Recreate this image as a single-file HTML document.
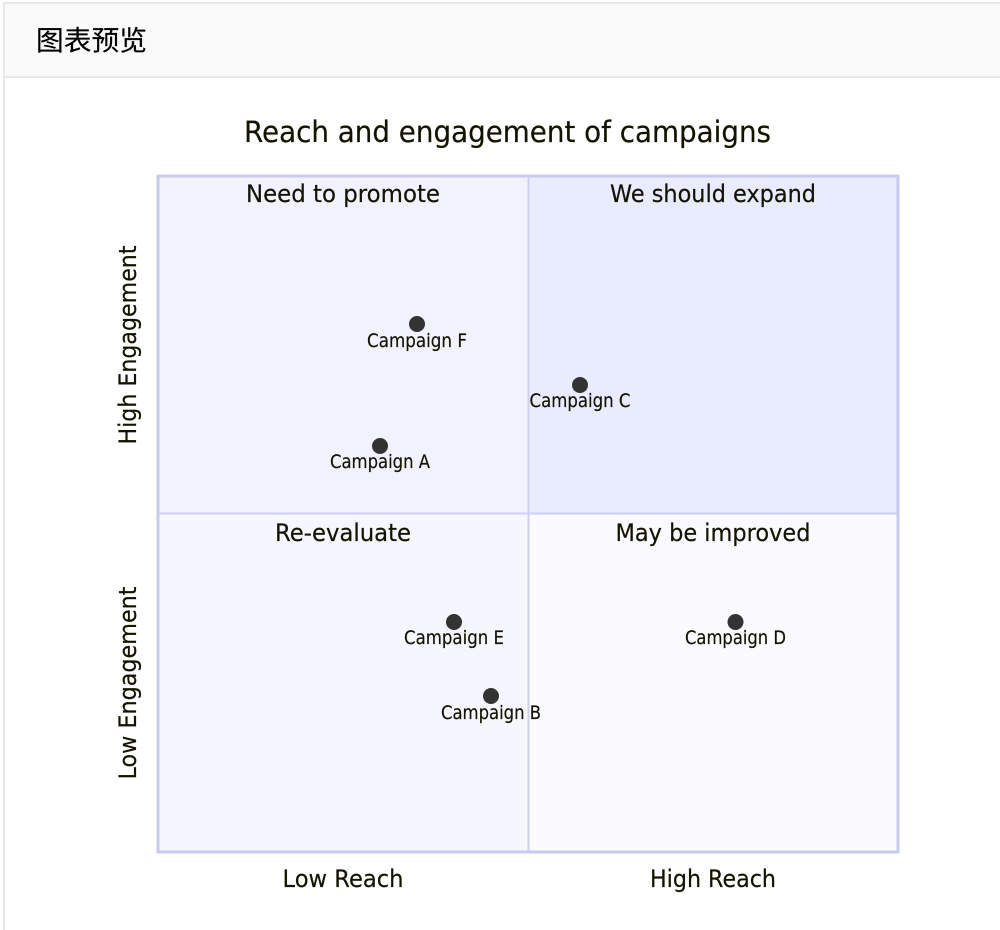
<!DOCTYPE html>
<html><head><meta charset="utf-8"><style>
html,body{margin:0;padding:0;background:#fff;width:1000px;height:930px;overflow:hidden}
svg{display:block}
text{font-family:"DejaVu Sans","Noto Sans CJK SC",sans-serif;fill:#131300;stroke:#131300;stroke-width:.2px}
</style></head><body>
<svg width="1000" height="930" viewBox="0 0 1000 930" xmlns="http://www.w3.org/2000/svg">
<rect x="0" y="0" width="1000" height="930" fill="#fff"/>
<rect x="4" y="3" width="1000" height="74" fill="#fafafa"/>
<rect x="3" y="2" width="997" height="2" fill="#e8e8e8"/>
<rect x="3" y="2" width="2" height="928" fill="#e8e8e8"/>
<rect x="5" y="76" width="995" height="2" fill="#e8e8e8"/>
<text x="36" y="50" font-size="27.500" style="fill:#000;stroke:#000;stroke-width:.15px;font-family:'Noto Sans CJK SC',sans-serif" textLength="111" lengthAdjust="spacingAndGlyphs">图表预览</text>

<rect x="158" y="176" width="370.500" height="337.500" fill="#f2f2ff"/>
<rect x="528.500" y="176" width="370" height="337.500" fill="#e9ebfe"/>
<rect x="158" y="513.500" width="370.500" height="338" fill="#f6f6ff"/>
<rect x="528.500" y="513.500" width="370" height="338" fill="#fbfbff"/>
<rect x="158" y="176" width="740" height="676" fill="none" stroke="#c9c9f2" stroke-width="3"/>
<line x1="528.500" y1="176" x2="528.500" y2="852" stroke="#cfcff4" stroke-width="2"/>
<line x1="158" y1="513.500" x2="898" y2="513.500" stroke="#cfcff4" stroke-width="2"/>

<text x="507.500" y="142" font-size="29" text-anchor="middle" textLength="527" lengthAdjust="spacingAndGlyphs">Reach and engagement of campaigns</text>

<text x="343" y="202" font-size="24" text-anchor="middle" textLength="194" lengthAdjust="spacingAndGlyphs">Need to promote</text>
<text x="713" y="202" font-size="24" text-anchor="middle" textLength="206" lengthAdjust="spacingAndGlyphs">We should expand</text>
<text x="343" y="541" font-size="24" text-anchor="middle" textLength="136" lengthAdjust="spacingAndGlyphs">Re-evaluate</text>
<text x="713" y="541" font-size="24" text-anchor="middle" textLength="195" lengthAdjust="spacingAndGlyphs">May be improved</text>

<text x="343" y="887" font-size="24" text-anchor="middle" textLength="121" lengthAdjust="spacingAndGlyphs">Low Reach</text>
<text x="713" y="887" font-size="24" text-anchor="middle" textLength="126" lengthAdjust="spacingAndGlyphs">High Reach</text>
<text transform="translate(136 345) rotate(-90)" font-size="24" text-anchor="middle" textLength="199" lengthAdjust="spacingAndGlyphs">High Engagement</text>
<text transform="translate(136 683) rotate(-90)" font-size="24" text-anchor="middle" textLength="193" lengthAdjust="spacingAndGlyphs">Low Engagement</text>

<g fill="#333">
<circle cx="417" cy="324" r="8"/>
<circle cx="580" cy="385" r="8"/>
<circle cx="380" cy="446" r="8"/>
<circle cx="454" cy="622" r="8"/>
<circle cx="735.500" cy="622" r="8"/>
<circle cx="491" cy="696" r="8"/>
</g>
<g font-size="19" text-anchor="middle">
<text x="417" y="347" textLength="100" lengthAdjust="spacingAndGlyphs">Campaign F</text>
<text x="580" y="407" textLength="101" lengthAdjust="spacingAndGlyphs">Campaign C</text>
<text x="380" y="468" textLength="100" lengthAdjust="spacingAndGlyphs">Campaign A</text>
<text x="454" y="644" textLength="100" lengthAdjust="spacingAndGlyphs">Campaign E</text>
<text x="735.500" y="644" textLength="101" lengthAdjust="spacingAndGlyphs">Campaign D</text>
<text x="491" y="719" textLength="100" lengthAdjust="spacingAndGlyphs">Campaign B</text>
</g>
</svg>
</body></html>
